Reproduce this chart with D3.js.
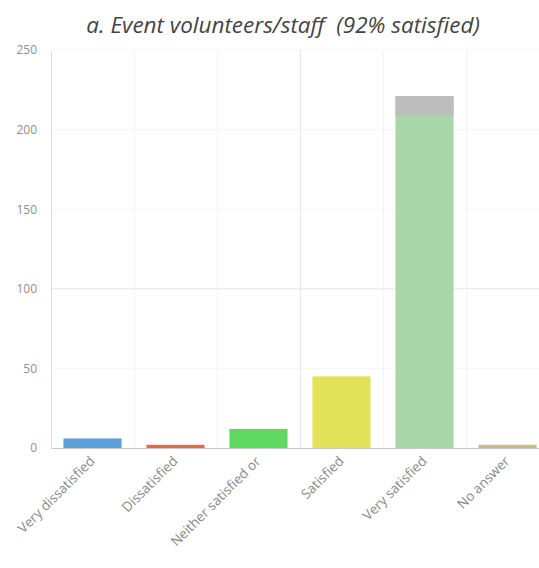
<!DOCTYPE html>
<html><head><meta charset="utf-8">
<script src="https://cdn.jsdelivr.net/npm/d3@7"></script>
<style>body{margin:0;background:#fff}svg{display:block}</style>
</head><body>
<script>
const categories = ["Very dissatisfied","Dissatisfied","Neither satisfied or","Satisfied","Very satisfied","No answer"];
const values = [6, 2, 12, 45, 221, 2];
const highlight = [0, 0, 0, 0, 12, 0];
const colors = ["#5a9fd8","#e8654f","#5ed85e","#e2e259","#a9d6a9","#c9b88a"];
const yTicks = [0, 50, 100, 150, 200, 250];
const title = "a. Event volunteers/staff  (92% satisfied)";

const W = 539, H = 568;
const svg = d3.select("body").append("svg").attr("width", W).attr("height", H);
const x = d3.scaleBand().domain(categories).range([51, 549]).paddingInner(0.3).paddingOuter(0.15);
const y = d3.scaleLinear().domain([0, 250]).range([448, 50]);

svg.append("text").attr("x", 283).attr("y", 33).attr("text-anchor", "middle")
  .style("white-space", "pre")
  .attr("font-family", "Open Sans").attr("font-style", "italic").attr("font-size", 22.5)
  .attr("fill", "#444").text(title);

// gridlines
const grid = svg.append("g");
grid.selectAll("line.h").data(yTicks.filter(d => d > 0)).enter().append("line")
  .attr("x1", 51).attr("x2", W).attr("y1", d => y(d)).attr("y2", d => y(d))
  .attr("stroke", d => d === 100 ? "#e4e4e4" : "#f6f6f6").attr("stroke-width", 1);
const bounds = categories.slice(1).map(c => x(c) - x.step() * x.paddingInner() / 2);
grid.selectAll("line.v").data(bounds).enter().append("line")
  .attr("x1", d => Math.round(d) + 0.5).attr("x2", d => Math.round(d) + 0.5)
  .attr("y1", y(250)).attr("y2", y(0))
  .attr("stroke", (d, i) => i === 2 ? "#e6e6ee" : "#f3f3f6");

// y axis
const yAxis = d3.axisLeft(y).tickValues(yTicks).tickSize(0).tickPadding(14);
const ya = svg.append("g").attr("transform", "translate(51,0)").call(yAxis);
ya.select(".domain").attr("stroke", "#dcdcdc");
ya.selectAll("text").attr("fill", "#8f8f8f").attr("font-family", "Open Sans").attr("font-size", 12);

// bars
svg.selectAll("rect.bar").data(categories).enter().append("rect")
  .attr("x", d => x(d)).attr("width", x.bandwidth())
  .attr("y", (d, i) => y(values[i])).attr("height", (d, i) => y(0) - y(values[i]))
  .attr("fill", (d, i) => colors[i]);
svg.selectAll("rect.hl").data(categories.filter((d, i) => highlight[i] > 0)).enter().append("rect")
  .attr("x", d => x(d)).attr("width", x.bandwidth())
  .attr("y", d => y(values[categories.indexOf(d)]))
  .attr("height", d => y(0) - y(highlight[categories.indexOf(d)]))
  .attr("fill", "#bdbdbd");

// x axis
const xAxis = d3.axisBottom(x).tickSize(0).tickPadding(0);
const xa = svg.append("g").attr("transform", "translate(0,448)").call(xAxis);
xa.select(".domain").attr("stroke", "#c8c8c8");
xa.selectAll("text").attr("fill", "#8a8a8a").attr("font-family", "Open Sans").attr("font-size", 13.5)
  .attr("text-anchor", "end").attr("dy", 0)
  .attr("transform", "translate(3,14) rotate(-45)");
</script>
</body></html>
